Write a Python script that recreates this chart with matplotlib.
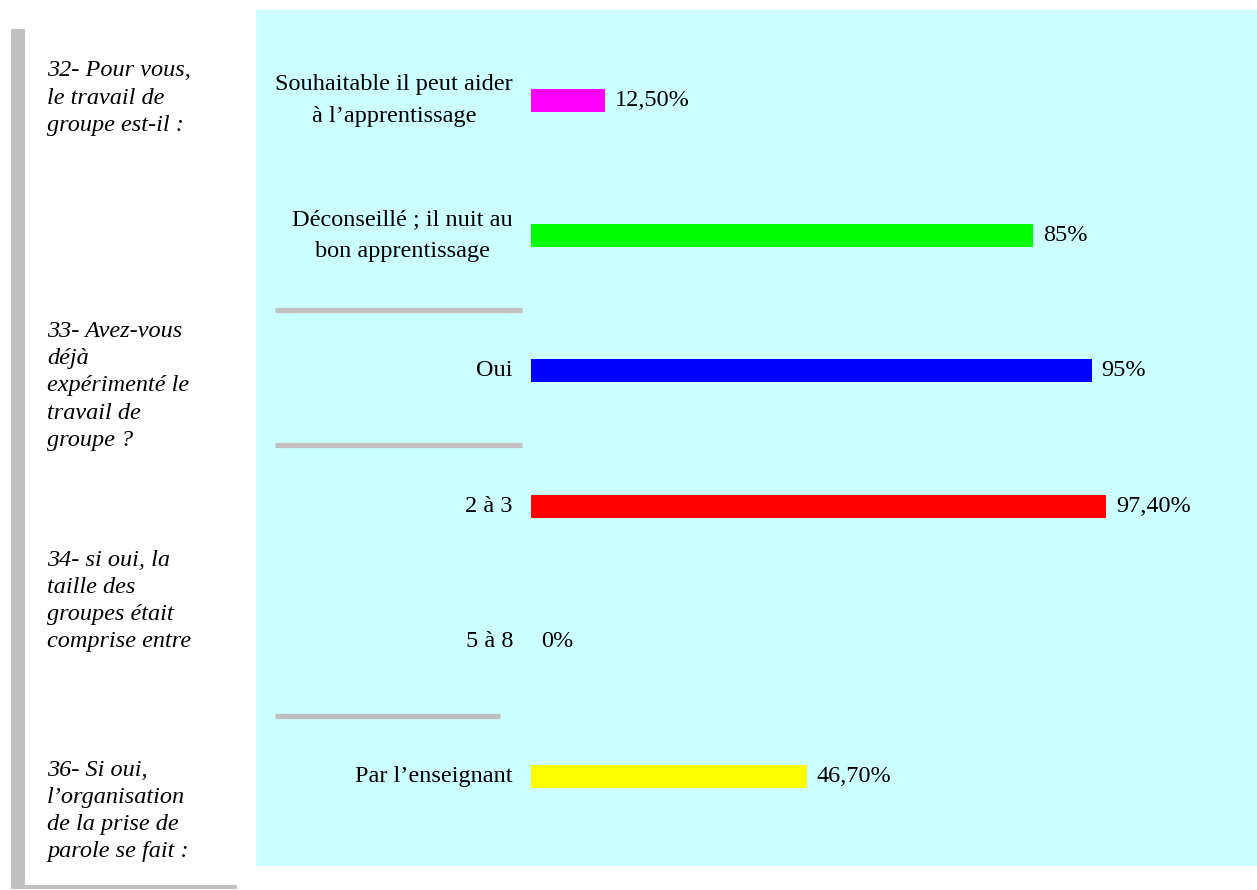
import matplotlib
matplotlib.use("Agg")
import matplotlib.pyplot as plt
from matplotlib.patches import Rectangle
import matplotlib.transforms as mtransforms

# Survey answers (percent of respondents)
categories = [
    "Souhaitable il peut aider\nà l\u2019apprentissage",
    "Déconseillé ; il nuit au\nbon apprentissage",
    "Oui",
    "2 à 3",
    "5 à 8",
    "Par l\u2019enseignant",
]
values = [12.5, 85.0, 95.0, 97.4, 0.0, 46.7]
value_labels = ["12,50%", "85%", "95%", "97,40%", "0%", "46,70%"]
bar_colors = ["#FF00FF", "#00FF00", "#0000FF", "#FF0000", "#FFFFFF", "#FFFF00"]

questions = [
    "32- Pour vous,\nle travail de\ngroupe est-il :",
    "33- Avez-vous\ndéjà\nexpérimenté le\ntravail de\ngroupe ?",
    "34- si oui, la\ntaille des\ngroupes était\ncomprise entre",
    "36- Si oui,\nl\u2019organisation\nde la prise de\nparole se fait :",
]
# vertical centre of each question block, in figure pixels from the top
question_centers = [98, 386, 601, 811]
# separators sit between these category indices
separator_after = [1, 2, 4]
separator_right = [522, 522, 500]

W, H = 1257, 890
fig = plt.figure(figsize=(W / 100, H / 100), dpi=100)
fig.patch.set_facecolor("white")

# Background layer in pixel units for frame and panel
bg = fig.add_axes([0, 0, 1, 1])
bg.set_xlim(0, W)
bg.set_ylim(H, 0)
bg.axis("off")
bg.add_patch(Rectangle((256, 10), W - 256, 856, facecolor="#CCFFFF", edgecolor="none"))
bg.add_patch(Rectangle((11, 29), 14, 860, facecolor="#C0C0C0", edgecolor="none"))
bg.add_patch(Rectangle((11, 885), 226, 4, facecolor="#C0C0C0", edgecolor="none"))

for q, yc in zip(questions, question_centers):
    bg.text(47, yc, q, ha="left", va="center", fontsize=17.5, style="italic",
            family="Liberation Serif", linespacing=1.38, color="black")

# Bar axes: x in percent, y by category index
x0, px_per_pct = 531, 5.905
y_first, y_step = 100.5, 135.2
top_px, bot_px = 10, 866
ax_left = x0 / W
ax_width = 100 * px_per_pct / W
ax_bottom = 1 - bot_px / H
ax_height = (bot_px - top_px) / H
ax = fig.add_axes([ax_left, ax_bottom, ax_width, ax_height])
ax.patch.set_alpha(0)
ax.set_xlim(0, 100)
ax.set_ylim((bot_px - y_first) / y_step, (top_px - y_first) / y_step)
ax.axis("off")

ypos = list(range(len(categories)))
ax.barh(ypos, values, height=23 / y_step, color=bar_colors, edgecolor="none")

for y, v, lab, cat in zip(ypos, values, value_labels, categories):
    ax.annotate(lab, xy=(v, y), xytext=(7, 0), textcoords="offset points",
                ha="left", va="center", fontsize=17.5, family="Liberation Serif")
    ax.annotate(cat, xy=(0, y), xytext=(-13, 0), textcoords="offset points",
                ha="right", va="center", multialignment="center", fontsize=17.5,
                family="Liberation Serif", linespacing=1.68, annotation_clip=False)

trans = mtransforms.blended_transform_factory(ax.transAxes, ax.transData)
for idx, right in zip(separator_after, separator_right):
    y = idx + 0.55
    ax.plot([(275 - x0) / (100 * px_per_pct), (right - x0) / (100 * px_per_pct)],
            [y, y], transform=trans, color="#C0C0C0", lw=3.8,
            solid_capstyle="butt", clip_on=False)

fig.savefig("out.png", dpi=100)
